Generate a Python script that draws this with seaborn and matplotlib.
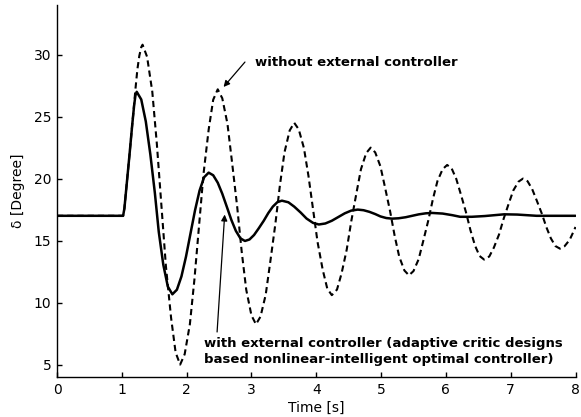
import matplotlib
matplotlib.use("Agg")
import matplotlib.pyplot as plt
import seaborn as sns
import pandas as pd

# ---- data ----
t_without = [0.0, 1.02, 1.04, 1.08, 1.12, 1.16, 1.18, 1.21, 1.24, 1.27, 1.30, 1.32,
             1.39, 1.47, 1.54, 1.61, 1.68, 1.76, 1.83, 1.90,
             1.97, 2.05, 2.12, 2.19, 2.26, 2.34, 2.41, 2.48,
             2.55, 2.63, 2.70, 2.78, 2.85, 2.92, 3.00, 3.07,
             3.14, 3.22, 3.29, 3.37, 3.44, 3.51, 3.59, 3.66,
             3.73, 3.81, 3.88, 3.95, 4.02, 4.10, 4.17, 4.24,
             4.32, 4.39, 4.47, 4.54, 4.62, 4.69, 4.77, 4.84,
             4.91, 4.99, 5.06, 5.14, 5.21, 5.28, 5.36, 5.43,
             5.50, 5.58, 5.65, 5.73, 5.80, 5.87, 5.95, 6.02,
             6.09, 6.16, 6.23, 6.31, 6.38, 6.45, 6.52, 6.59,
             6.67, 6.74, 6.82, 6.89, 6.97, 7.04, 7.12, 7.19,
             7.26, 7.33, 7.40, 7.48, 7.55, 7.62, 7.69, 7.76,
             7.83, 7.91, 7.98, 8.00]
delta_without = [17.0, 17.0, 17.6, 19.8, 22.0, 24.3, 25.4, 27.2, 28.8, 29.9, 30.6, 30.8,
                 29.82, 27.02, 22.84, 17.9, 12.96, 8.78, 5.98, 5.0,
                 5.84, 8.25, 11.85, 16.1, 20.35, 23.95, 26.36, 27.2,
                 26.48, 24.42, 21.35, 17.73, 14.10, 11.03, 8.97, 8.25,
                 8.87, 10.63, 13.26, 16.38, 19.49, 22.12, 23.88, 24.5,
                 23.97, 22.46, 20.21, 17.55, 14.89, 12.64, 11.13, 10.6,
                 11.05, 12.34, 14.27, 16.55, 18.83, 20.76, 22.05, 22.5,
                 22.11, 20.99, 19.32, 17.35, 15.38, 13.71, 12.59, 12.2,
                 12.54, 13.50, 14.95, 16.65, 18.35, 19.80, 20.76, 21.1,
                 20.81, 19.98, 18.75, 17.29, 15.82, 14.59, 13.76, 13.47,
                 13.72, 14.43, 15.49, 16.74, 17.99, 19.04, 19.75, 20.0,
                 19.79, 19.17, 18.26, 17.18, 16.09, 15.18, 14.56, 14.35,
                 14.54, 15.06, 15.85, 16.1]

t_with = [0.0, 1.02, 1.04, 1.08, 1.12, 1.16, 1.19, 1.21, 1.23,
          1.30, 1.37, 1.44, 1.51, 1.57, 1.64, 1.71, 1.78,
          1.85, 1.92, 1.99, 2.06, 2.13, 2.20, 2.27, 2.34,
          2.41, 2.48, 2.55, 2.62, 2.69, 2.76, 2.83, 2.90,
          2.97, 3.04, 3.11, 3.19, 3.26, 3.33, 3.40, 3.47,
          3.57, 3.66, 3.76, 3.85, 3.95, 4.04,
          4.14, 4.24, 4.34, 4.44, 4.54, 4.64,
          4.73, 4.82, 4.91, 4.99, 5.08, 5.17,
          5.27, 5.38, 5.48, 5.58, 5.69, 5.79,
          5.95, 6.10, 6.22, 6.40, 6.60, 6.90, 7.10, 7.40, 8.00]
delta_with = [17.0, 17.0, 17.6, 19.8, 22.0, 24.3, 25.9, 26.7, 27.0,
              26.38, 24.61, 21.96, 18.84, 15.71, 13.06, 11.29, 10.67,
              11.04, 12.11, 13.70, 15.58, 17.45, 19.04, 20.11, 20.48,
              20.27, 19.67, 18.78, 17.73, 16.67, 15.78, 15.18, 14.97,
              15.09, 15.45, 15.97, 16.60, 17.22, 17.74, 18.10, 18.22,
              18.09, 17.74, 17.26, 16.78, 16.43, 16.3,
              16.38, 16.6, 16.9, 17.2, 17.42, 17.5,
              17.45, 17.32, 17.14, 16.95, 16.82, 16.77,
              16.80, 16.885, 17.0, 17.115, 17.2, 17.23,
              17.18, 17.05, 16.92, 16.92, 16.98, 17.12, 17.1, 17.0, 17.0]

x_ticks = [0, 1, 2, 3, 4, 5, 6, 7, 8]
y_ticks = [5, 10, 15, 20, 25, 30]
label_without = "without external controller"
label_with_1 = "with external controller (adaptive critic designs"
label_with_2 = "based nonlinear-intelligent optimal controller)"

assert len(t_without) == len(delta_without)
assert len(t_with) == len(delta_with)

df_without = pd.DataFrame({"t": t_without, "d": delta_without})
df_with = pd.DataFrame({"t": t_with, "d": delta_with})

sns.set_theme(style="ticks", rc={"axes.edgecolor": "black", "axes.labelcolor": "black",
                                 "text.color": "black", "xtick.color": "black",
                                 "ytick.color": "black"})
plt.rcParams["font.family"] = ["DejaVu Sans"]

fig = plt.figure(figsize=(5.81, 4.17), dpi=100)
ax = fig.add_axes([57 / 581, 1 - 377 / 417, (575.5 - 57) / 581, (377 - 5) / 417])

sns.lineplot(data=df_without, x="t", y="d", ax=ax, color="black", lw=1.5,
             sort=False, estimator=None)
ax.lines[-1].set_dashes([3.0, 1.9])
sns.lineplot(data=df_with, x="t", y="d", ax=ax, color="black", lw=1.8,
             sort=False, estimator=None)

ax.set_xlim(0, 8)
ax.set_ylim(4, 34)
ax.set_xticks(x_ticks)
ax.set_yticks(y_ticks)
ax.tick_params(direction="in", length=3.5, width=1.0, labelsize=10, pad=4)
for s in ["top", "right"]:
    ax.spines[s].set_visible(False)
for s in ["left", "bottom"]:
    ax.spines[s].set_linewidth(1.0)

ax.set_xlabel("Time [s]", fontsize=10, labelpad=3)
ax.set_ylabel("δ [Degree]", fontsize=10, labelpad=6)

ax.text(3.058, 29.40, label_without, fontsize=9.5, fontweight="bold",
        ha="left", va="center")
ax.annotate("", xy=(2.57, 27.39), xytext=(2.90, 29.4),
            arrowprops=dict(arrowstyle="-|>", color="black", lw=0.9,
                            mutation_scale=9, shrinkA=0, shrinkB=0))
ax.text(2.27, 6.74, label_with_1, fontsize=9.5, fontweight="bold",
        ha="left", va="center")
ax.text(2.27, 5.40, label_with_2, fontsize=9.5, fontweight="bold",
        ha="left", va="center")
ax.annotate("", xy=(2.587, 17.1), xytext=(2.47, 7.63),
            arrowprops=dict(arrowstyle="-|>", color="black", lw=0.9,
                            mutation_scale=9, shrinkA=0, shrinkB=0))

fig.savefig("out.png", dpi=100)
